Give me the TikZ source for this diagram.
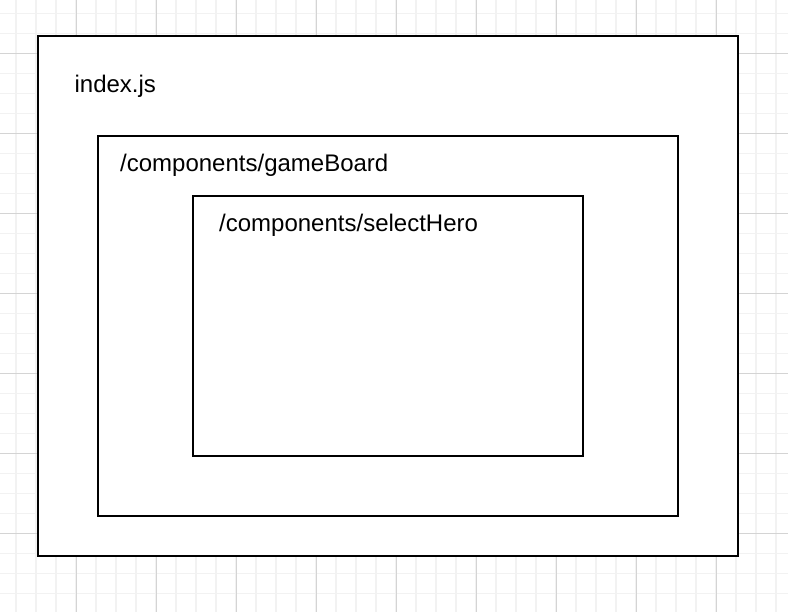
\documentclass[tikz,border=0pt]{standalone}
\usepackage{fontspec}
\setmainfont{Liberation Sans}
\usetikzlibrary{positioning}
\definecolor{gridminor}{HTML}{F2F2F2}
\definecolor{gridmajor}{HTML}{D4D4D4}
\tikzstyle{module} = [rectangle, draw=black, fill=white, line width=2pt, inner sep=0pt, anchor=north west]
\tikzstyle{modname} = [anchor=base west, inner sep=0pt, font=\fontsize{24}{29}\selectfont]
\tikzstyle{minorline} = [gridminor, line width=1.5pt]
\tikzstyle{majorline} = [gridmajor, line width=1pt]

\begin{document}
\begin{tikzpicture}[x=1pt, y=-1pt]
        % Canvas
        \fill[white] (0,0) rectangle (788,612);
        \useasboundingbox (0,0) rectangle (788,612);

        % Grid
        \foreach \i in {0,...,38}
            \draw [minorline] (16+20*\i,0) -- (16+20*\i,612);
        \foreach \i in {0,...,29}
            \draw [minorline] (0,13.33+20*\i) -- (788,13.33+20*\i);
        \foreach \i in {0,...,8}
            \draw [majorline] (76+80*\i,0) -- (76+80*\i,612);
        \foreach \i in {0,...,6}
            \draw [majorline] (0,53.33+80*\i) -- (788,53.33+80*\i);

        % Nodes
        \node (indexbox) [module, minimum width=700pt, minimum height=520pt] at (37,35) {};
        \node (boardbox) [module, minimum width=580pt, minimum height=380pt] at (97,135) {};
        \node (herobox) [module, minimum width=390pt, minimum height=260pt] at (192,195) {};

        % Labels
        \node (indexname) [modname] at ([xshift=37.4pt, yshift=-57.3pt]indexbox.north west) {index.js};
        \node (boardname) [modname] at ([xshift=23pt, yshift=-36.7pt]boardbox.north west) {/components/gameBoard};
        \node (heroname) [modname] at ([xshift=27pt, yshift=-36.7pt]herobox.north west) {/components/selectHero};
    \end{tikzpicture}
\end{document}
